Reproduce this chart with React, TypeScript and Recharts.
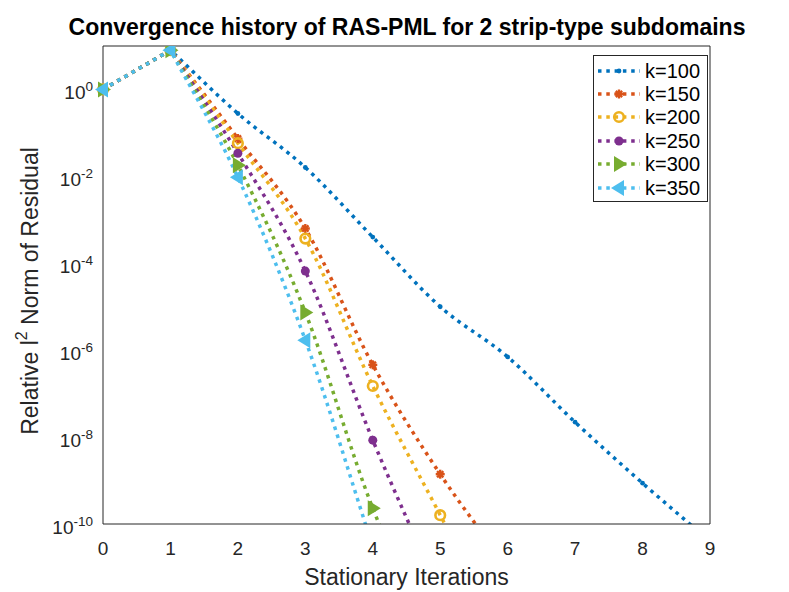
import React from "react"
import { LineChart, Line, XAxis, YAxis, Legend } from "recharts"

// iteration index on the x axis
const iterations = [0, 1, 2, 3, 4, 5, 6, 7, 8, 9]

// relative residual per wavenumber
const k100 = [1, 8, 2.8e-1, 1.6e-2, 4e-4, 1e-5, 7e-7, 2.2e-8, 8.7e-10, 4e-11]
const k150 = [1, 8, 7.4e-2, 6.3e-4, 4.6e-7, 1.4e-9, 1e-11]
const k200 = [1, 8, 5.8e-2, 3.7e-4, 1.5e-7, 1.6e-10, 1.6e-13]
const k250 = [1, 8, 3.4e-2, 6.6e-5, 8.5e-9, 2.5e-12]
const k300 = [1, 8, 1.8e-2, 7.4e-6, 2.3e-10, 1e-13]
const k350 = [1, 8, 9.5e-3, 1.7e-6, 3e-11]

const yTicks = [1, 1e-2, 1e-4, 1e-6, 1e-8, 1e-10]
const decades = [10, 1, 1e-1, 1e-2, 1e-3, 1e-4, 1e-5, 1e-6, 1e-7, 1e-8, 1e-9, 1e-10]
const minorTicks = decades.slice(1).flatMap((d) => [2, 3, 4, 5, 6, 7, 8, 9].map((m) => m * d))

const series = [
  { key: "k100", name: "k=100", color: "#0072BD", marker: "point", values: k100 },
  { key: "k150", name: "k=150", color: "#D95319", marker: "star", values: k150 },
  { key: "k200", name: "k=200", color: "#EDB120", marker: "circle", values: k200 },
  { key: "k250", name: "k=250", color: "#7E2F8E", marker: "dot", values: k250 },
  { key: "k300", name: "k=300", color: "#77AC30", marker: "right", values: k300 },
  { key: "k350", name: "k=350", color: "#4DBEEE", marker: "left", values: k350 },
]

const data = iterations.map((it, i) => {
  const row: Record<string, number | undefined> = { it }
  series.forEach((s) => {
    row[s.key] = s.values[i]
  })
  return row
})

const FONT = "'Liberation Sans', Arial, Helvetica, sans-serif"
const INK = "#262626"
const DASH = "3.5 4.8"

// straight first segment, then a smooth cubic through the rest
// (tangent at the 2nd point follows the next chord, so the peak stays sharp)
const kinkedSpline = (context: any) => {
  let pts: number[][] = []
  return {
    areaStart() {},
    areaEnd() {},
    lineStart() {
      pts = []
    },
    point(x: number, y: number) {
      pts.push([+x, +y])
    },
    lineEnd() {
      const n = pts.length
      if (!n) return
      context.moveTo(pts[0][0], pts[0][1])
      if (n === 1) return
      context.lineTo(pts[1][0], pts[1][1])
      const tan = (i: number) => {
        if (i === 1) return [pts[2][0] - pts[1][0], pts[2][1] - pts[1][1]]
        if (i === n - 1) return [pts[i][0] - pts[i - 1][0], pts[i][1] - pts[i - 1][1]]
        return [(pts[i + 1][0] - pts[i - 1][0]) / 2, (pts[i + 1][1] - pts[i - 1][1]) / 2]
      }
      for (let i = 1; i < n - 1; i++) {
        const a = pts[i]
        const b = pts[i + 1]
        const ta = tan(i)
        const tb = tan(i + 1)
        context.bezierCurveTo(a[0] + ta[0] / 3, a[1] + ta[1] / 3, b[0] - tb[0] / 3, b[1] - tb[1] / 3, b[0], b[1])
      }
    },
  }
}

function Marker({ cx, cy, kind, color }: any) {
  if (cx == null || cy == null) return null
  switch (kind) {
    case "point":
      return <circle cx={cx} cy={cy} r={2.4} fill={color} />
    case "dot":
      return <circle cx={cx} cy={cy} r={4.5} fill={color} />
    case "circle":
      return <circle cx={cx} cy={cy} r={4.8} fill="none" stroke={color} strokeWidth={2.6} />
    case "star": {
      const r = 4.5
      return (
        <g stroke={color} strokeWidth={2.4}>
          <line x1={cx - r} y1={cy} x2={cx + r} y2={cy} />
          <line x1={cx} y1={cy - r} x2={cx} y2={cy + r} />
          <line x1={cx - r * 0.7} y1={cy - r * 0.7} x2={cx + r * 0.7} y2={cy + r * 0.7} />
          <line x1={cx - r * 0.7} y1={cy + r * 0.7} x2={cx + r * 0.7} y2={cy - r * 0.7} />
        </g>
      )
    }
    case "right":
      return <polygon points={`${cx + 8},${cy} ${cx - 5},${cy - 8} ${cx - 5},${cy + 8}`} fill={color} />
    case "left":
      return <polygon points={`${cx - 8},${cy} ${cx + 5},${cy - 8} ${cx + 5},${cy + 8}`} fill={color} />
    default:
      return null
  }
}

function PowTick({ x, y, payload }: any) {
  const exp = Math.round(Math.log10(payload.value))
  return (
    <text x={x} y={y + 10} textAnchor="end" fill={INK} fontFamily={FONT} fontSize={19}>
      <tspan>10</tspan>
      <tspan dy={-8} fontSize={13.5}>
        {exp}
      </tspan>
    </text>
  )
}

function YLabel({ viewBox }: any) {
  const cx = 30
  const cy = viewBox ? viewBox.y + viewBox.height / 2 + 6 : 291
  return (
    <text
      x={cx}
      y={cy}
      transform={`rotate(-90 ${cx} ${cy})`}
      textAnchor="middle"
      dominantBaseline="central"
      fill={INK}
      fontFamily={FONT}
      fontSize={23}
    >
      Relative l
      <tspan dy={-9} fontSize={16}>
        2
      </tspan>
      <tspan dy={9}> Norm of Residual</tspan>
    </text>
  )
}

function LegendBox() {
  return (
    <div
      style={{
        width: 113,
        border: "1px solid #262626",
        background: "#fff",
        padding: "3px 0 2px 0",
        fontFamily: FONT,
        fontSize: 20,
        lineHeight: "20px",
        color: "#000",
      }}
    >
      {series.map((s) => (
        <div key={s.key} style={{ display: "flex", alignItems: "center", height: 23.4 }}>
          <svg width={49} height={20} style={{ flex: "none" }}>
            <line x1={4} y1={10} x2={46} y2={10} stroke={s.color} strokeWidth={3.5} strokeDasharray={DASH} />
            <Marker cx={25} cy={10} kind={s.marker} color={s.color} />
          </svg>
          <span style={{ marginLeft: 2 }}>{s.name}</span>
        </div>
      ))}
    </div>
  )
}

export default function App() {
  return (
    <div style={{ position: "absolute", left: 0, top: 0, width: 789, height: 592, background: "#fff" }}>
      <svg width={789} height={46} style={{ position: "absolute", left: 0, top: 0 }}>
        <text x={407} y={35} textAnchor="middle" fontFamily={FONT} fontWeight="bold" fontSize={23} fill="#000">
          Convergence history of RAS-PML for 2 strip-type subdomains
        </text>
      </svg>
      <LineChart
        width={789}
        height={592}
        data={data}
        margin={{ top: 46, right: 79, bottom: 0, left: 0 }}
        style={{ position: "absolute", left: 0, top: 0 }}
      >
        <XAxis
          xAxisId="x"
          dataKey="it"
          type="number"
          domain={[0, 9]}
          ticks={iterations}
          height={68}
          tickLine={false}
          tickSize={0}
          tickMargin={18}
          axisLine={{ stroke: INK }}
          tick={{ fill: INK, fontFamily: FONT, fontSize: 19 }}
          label={{ value: "Stationary Iterations", position: "insideBottom", offset: 7, fill: INK, fontFamily: FONT, fontSize: 23 }}
        />
        <XAxis xAxisId="xin" dataKey="it" type="number" domain={[0, 9]} ticks={iterations} mirror tick={false} axisLine={false} tickSize={6} tickLine={{ stroke: INK }} />
        <XAxis xAxisId="xtop" dataKey="it" type="number" domain={[0, 9]} ticks={iterations} orientation="top" mirror tick={false} axisLine={{ stroke: INK }} tickSize={6} tickLine={{ stroke: INK }} />
        <YAxis
          yAxisId="y"
          scale="log"
          type="number"
          domain={[1e-10, 10]}
          allowDataOverflow
          ticks={yTicks}
          width={103}
          tickLine={false}
          tickSize={0}
          tickMargin={10}
          axisLine={{ stroke: INK }}
          tick={<PowTick />}
          label={<YLabel />}
        />
        <YAxis yAxisId="yin" scale="log" type="number" domain={[1e-10, 10]} allowDataOverflow ticks={decades} mirror tick={false} axisLine={false} tickSize={6} tickLine={{ stroke: INK }} />
        <YAxis yAxisId="yinm" scale="log" type="number" domain={[1e-10, 10]} allowDataOverflow ticks={minorTicks} mirror tick={false} axisLine={false} tickSize={3} tickLine={{ stroke: INK }} />
        <YAxis yAxisId="yr" orientation="right" scale="log" type="number" domain={[1e-10, 10]} allowDataOverflow ticks={decades} mirror tick={false} axisLine={{ stroke: INK }} tickSize={6} tickLine={{ stroke: INK }} />
        <YAxis yAxisId="yrm" orientation="right" scale="log" type="number" domain={[1e-10, 10]} allowDataOverflow ticks={minorTicks} mirror tick={false} axisLine={false} tickSize={3} tickLine={{ stroke: INK }} />
        <Legend
          layout="horizontal"
          verticalAlign="middle"
          align="center"
          content={() => <LegendBox />}
          wrapperStyle={{ left: 593, top: 55, width: 115, height: "auto" }}
        />
        {series.map((s) => (
          <Line
            key={s.key}
            xAxisId="x"
            yAxisId="y"
            dataKey={s.key}
            name={s.name}
            type={kinkedSpline as any}
            stroke={s.color}
            strokeWidth={3.5}
            strokeDasharray={DASH}
            isAnimationActive={false}
            dot={(p: any) => <Marker key={`${s.key}-${p.index}`} cx={p.cx} cy={p.cy} kind={s.marker} color={s.color} />}
            activeDot={false}
          />
        ))}
      </LineChart>
    </div>
  )
}
